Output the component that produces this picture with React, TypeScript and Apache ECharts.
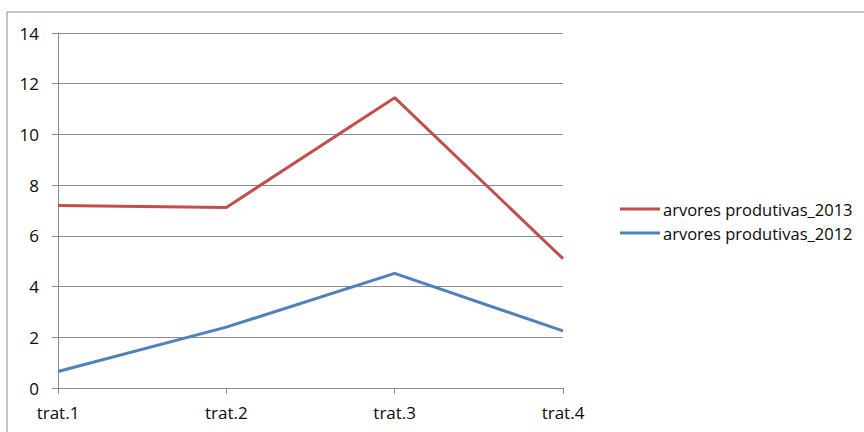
import React, { useEffect, useRef } from "react";
import * as echarts from "echarts";

const categories = ["trat.1", "trat.2", "trat.3", "trat.4"];
const series2013 = [7.2, 7.12, 11.45, 5.1];
const series2012 = [0.65, 2.4, 4.52, 2.25];
const seriesNames = ["arvores produtivas_2013", "arvores produtivas_2012"];

const FONT = "'Open Sans', 'Noto Sans', sans-serif";
const GRID_COLOR = "#8c8c8c";
const TEXT_COLOR = "#0a0a0a";

export default function App() {
  const ref = useRef<HTMLDivElement>(null);
  useEffect(() => {
    if (!ref.current) return;
    const chart = echarts.init(ref.current, undefined, { renderer: "svg" });
    chart.setOption({
      animation: false,
      backgroundColor: "#ffffff",
      textStyle: { fontFamily: FONT },
      graphic: [
        {
          type: "rect",
          shape: { x: 7, y: 12, width: 1000, height: 600 },
          style: { fill: "none", stroke: "#8a8a8a", lineWidth: 1 },
          silent: true,
        },
      ],
      grid: { left: 58, right: 301, top: 33, bottom: 44, containLabel: false },
      legend: {
        orient: "vertical",
        left: 615,
        top: 194,
        icon: "rect",
        itemWidth: 40,
        itemHeight: 3,
        itemGap: 4,
        textStyle: {
          fontSize: 16.5,
          lineHeight: 20,
          color: TEXT_COLOR,
          fontFamily: FONT,
          padding: [0, 0, 0, -2],
        },
        data: seriesNames,
      },
      xAxis: {
        type: "category",
        data: categories,
        boundaryGap: false,
        axisLine: { lineStyle: { color: GRID_COLOR, width: 1 } },
        axisTick: { show: true, length: 6, alignWithLabel: true, lineStyle: { color: GRID_COLOR } },
        axisLabel: { fontSize: 17, color: TEXT_COLOR, margin: 16, fontFamily: FONT },
        splitLine: { show: false },
      },
      yAxis: {
        type: "value",
        min: 0,
        max: 14,
        interval: 2,
        axisLine: { show: true, lineStyle: { color: GRID_COLOR, width: 1 } },
        axisTick: { show: true, length: 6, lineStyle: { color: GRID_COLOR } },
        axisLabel: { fontSize: 17, color: TEXT_COLOR, margin: 19, fontFamily: FONT },
        splitLine: { show: true, lineStyle: { color: GRID_COLOR, width: 1 } },
      },
      series: [
        {
          name: seriesNames[0],
          type: "line",
          data: series2013,
          symbol: "none",
          lineStyle: { color: "#c0504d", width: 3 },
          itemStyle: { color: "#c0504d" },
        },
        {
          name: seriesNames[1],
          type: "line",
          data: series2012,
          symbol: "none",
          lineStyle: { color: "#4f81bd", width: 3 },
          itemStyle: { color: "#4f81bd" },
        },
      ],
    });
    return () => chart.dispose();
  }, []);
  return <div ref={ref} style={{ width: 864, height: 432, position: "absolute", left: 0, top: 0 }} />;
}
